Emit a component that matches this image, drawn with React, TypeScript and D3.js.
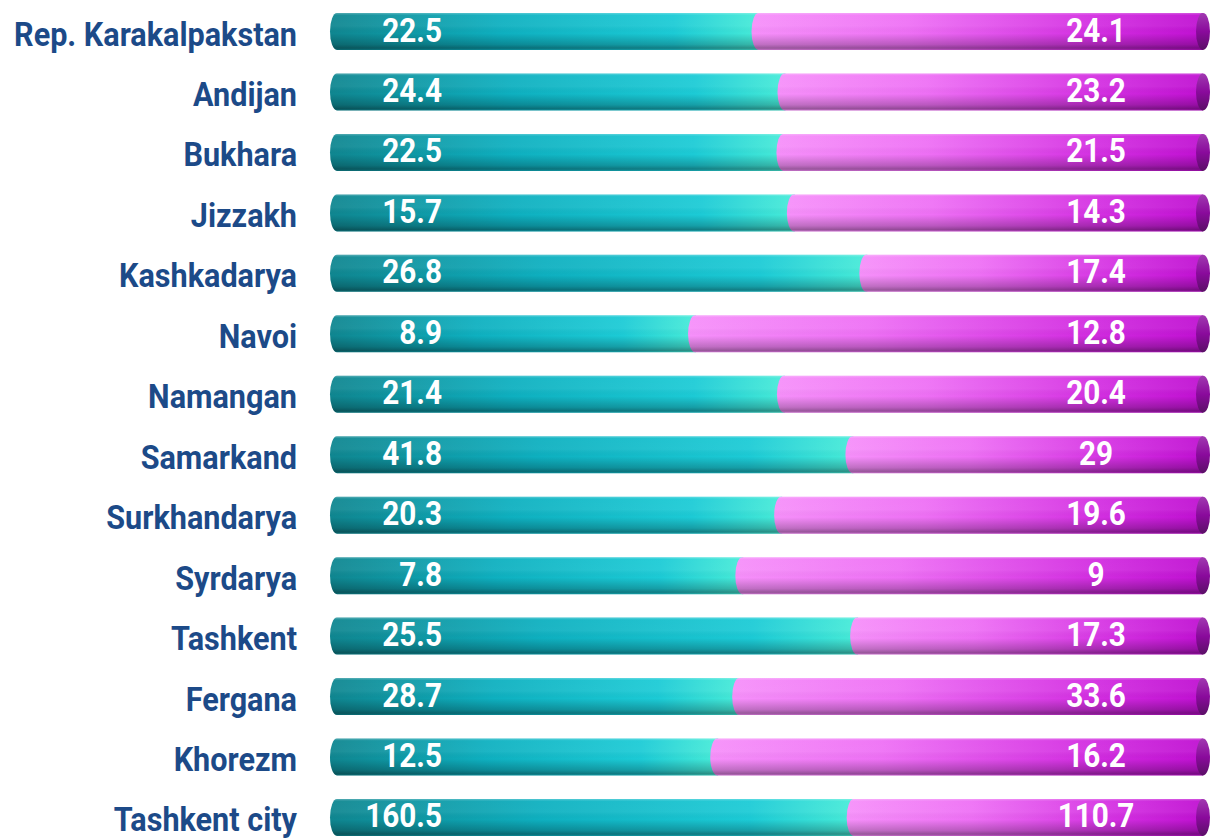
import React from 'react';
import * as d3 from 'd3';

const regions = [
  'Rep. Karakalpakstan', 'Andijan', 'Bukhara', 'Jizzakh', 'Kashkadarya', 'Navoi', 'Namangan',
  'Samarkand', 'Surkhandarya', 'Syrdarya', 'Tashkent', 'Fergana', 'Khorezm', 'Tashkent city',
];
const seriesA = [22.5, 24.4, 22.5, 15.7, 26.8, 8.9, 21.4, 41.8, 20.3, 7.8, 25.5, 28.7, 12.5, 160.5];
const seriesB = [24.1, 23.2, 21.5, 14.3, 17.4, 12.8, 20.4, 29, 19.6, 9, 17.3, 33.6, 16.2, 110.7];

const W = 1211;
const H = 838;

export default function App() {
  const y = d3.scaleBand<string>().domain(regions).range([13, 836]).paddingInner(0.388).paddingOuter(0);
  const rx = 7;
  const x = d3.scaleLinear().domain([0, 1]).range([330 + rx, 1210]);
  const bh = y.bandwidth();
  const ry = bh / 2;

  // segment with an elliptical left end, flat right end
  const seg = (x0: number, x1: number, top: number) =>
    `M${x0},${top} L${x1},${top} L${x1},${top + bh} L${x0},${top + bh} A${rx},${ry} 0 0 1 ${x0},${top} Z`;

  const font = "Roboto, 'Noto Sans', sans-serif";

  return (
    <svg width={W} height={H} style={{ position: 'absolute', left: 0, top: 0 }}>
      <defs>
        <linearGradient id="tealH" x1="0" x2="1" y1="0" y2="0">
          <stop offset="0" stopColor="#0f8690" />
          <stop offset="0.4" stopColor="#0eb0c0" />
          <stop offset="0.8" stopColor="#1ccbd6" />
          <stop offset="1" stopColor="#48ecd8" />
        </linearGradient>
        <linearGradient id="pinkH" x1="0" x2="1" y1="0" y2="0">
          <stop offset="0" stopColor="#f690fa" />
          <stop offset="0.35" stopColor="#ee70f5" />
          <stop offset="0.75" stopColor="#d430e2" />
          <stop offset="1" stopColor="#c010d2" />
        </linearGradient>
        <linearGradient id="shadeV" x1="0" x2="0" y1="0" y2="1">
          <stop offset="0" stopColor="#ffffff" stopOpacity="0.3" />
          <stop offset="0.06" stopColor="#ffffff" stopOpacity="0.05" />
          <stop offset="0.35" stopColor="#ffffff" stopOpacity="0.06" />
          <stop offset="0.55" stopColor="#000000" stopOpacity="0" />
          <stop offset="0.85" stopColor="#000000" stopOpacity="0.22" />
          <stop offset="0.95" stopColor="#000000" stopOpacity="0.38" />
          <stop offset="1" stopColor="#000000" stopOpacity="0.2" />
        </linearGradient>
        <linearGradient id="capV" x1="0" x2="0" y1="0" y2="1">
          <stop offset="0" stopColor="#a03ab0" />
          <stop offset="0.5" stopColor="#8a0a9c" />
          <stop offset="1" stopColor="#5a1066" />
        </linearGradient>
      </defs>
      {regions.map((r, i) => {
        const total = seriesA[i] + seriesB[i];
        const top = y(r) as number;
        const xs = x(seriesA[i] / total);
        const xe = x(1);
        const cy = top + ry;
        return (
          <g key={r}>
            <text
              transform={`translate(297,${cy + 14}) scale(0.9,1)`}
              textAnchor="end"
              fontFamily={font}
              fontWeight={700}
              fontSize={34}
              fill="#1c4a88"
            >
              {r}
            </text>
            <path d={seg(x(0), xs + 1, top)} fill="url(#tealH)" />
            <path d={seg(xs, xe - rx, top)} fill="url(#pinkH)" />
            <path d={seg(x(0), xe - rx, top)} fill="url(#shadeV)" />
            <ellipse cx={xe - rx} cy={cy} rx={rx} ry={ry} fill="url(#capV)" />
            <text
              transform={`translate(442,${cy + 10}) scale(0.9,1)`}
              textAnchor="end"
              fontFamily={font}
              fontWeight={700}
              fontSize={33}
              fill="#ffffff"
            >
              {seriesA[i]}
            </text>
            <text
              transform={`translate(1096,${cy + 10}) scale(0.9,1)`}
              textAnchor="middle"
              fontFamily={font}
              fontWeight={700}
              fontSize={33}
              fill="#ffffff"
            >
              {seriesB[i]}
            </text>
          </g>
        );
      })}
    </svg>
  );
}
